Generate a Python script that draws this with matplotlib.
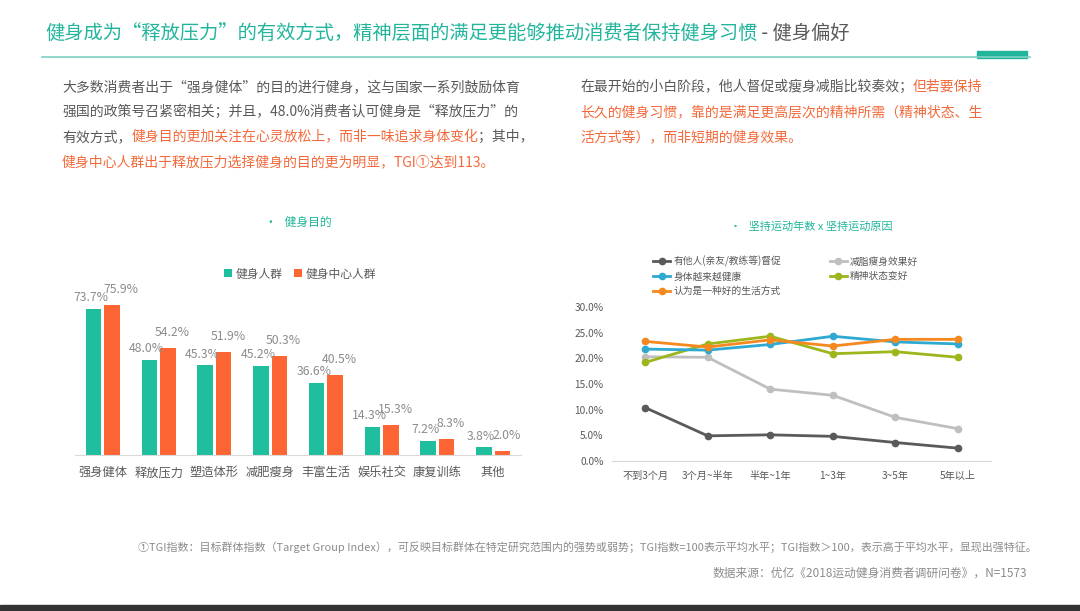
import numpy as np
import matplotlib
matplotlib.use('Agg')
import matplotlib.pyplot as plt
from matplotlib.patches import Rectangle

plt.rcParams['font.family'] = ['Noto Sans CJK SC', 'DejaVu Sans']

W, H = 1080, 611

# --- data ---
bar_cats = ['强身健体', '释放压力', '塑造体形', '减肥瘦身', '丰富生活', '娱乐社交', '康复训练', '其他']
fit_all = [73.7, 48.0, 45.3, 45.2, 36.6, 14.3, 7.2, 3.8]
fit_gym = [75.9, 54.2, 51.9, 50.3, 40.5, 15.3, 8.3, 2.0]

year_cats = ['不到3个月', '3个月~半年', '半年~1年', '1~3年', '3~5年', '5年以上']
push_others = [10.4, 4.9, 5.1, 4.8, 3.6, 2.5]
lose_fat = [20.3, 20.2, 14.0, 12.8, 8.5, 6.3]
healthier = [21.8, 21.6, 22.7, 24.3, 23.2, 22.8]
mood_better = [19.2, 22.8, 24.3, 20.9, 21.3, 20.2]
good_life = [23.3, 22.2, 23.6, 22.4, 23.7, 23.7]

TEAL = '#22b59c'
GRAY_TXT = '#595959'
ORANGE_TXT = '#f4693a'
LIGHT_TXT = '#8c8c8c'


def fx(px):
    return px / W


def fy(py):
    return 1 - py / H


def draw_runs(fig, x_px, y_px, runs, size):
    """色の違うテキストを横に連結して描画"""
    renderer = fig.canvas.get_renderer()
    x = x_px
    for s, c in runs:
        t = fig.text(fx(x), fy(y_px), s, color=c, fontsize=size, ha='left', va='center')
        x += t.get_window_extent(renderer).width


fig = plt.figure(figsize=(W / 100, H / 100), dpi=100)
fig.patch.set_facecolor('white')

# タイトル
draw_runs(fig, 45, 33, [('健身成为“释放压力”的有效方式，精神层面的满足更能够推动消费者保持健身习惯', TEAL),
                        (' - 健身偏好', GRAY_TXT)], 13.9)
fig.add_artist(plt.Line2D([fx(42), fx(1030)], [fy(56.5), fy(56.5)], color='#7fd0c2', lw=1.2))
fig.add_artist(Rectangle((fx(977), fy(57.5)), fx(1027) - fx(977), fy(51) - fy(57.5),
                         color=TEAL, transform=fig.transFigure))

# 本文
left_lines = [
    [('大多数消费者出于“强身健体”的目的进行健身，这与国家一系列鼓励体育', GRAY_TXT)],
    [('强国的政策号召紧密相关；并且，48.0%消费者认可健身是“释放压力”的', GRAY_TXT)],
    [('有效方式，', GRAY_TXT), ('健身目的更加关注在心灵放松上，而非一味追求身体变化', ORANGE_TXT), ('；其中，', GRAY_TXT)],
    [('健身中心人群出于释放压力选择健身的目的更为明显，TGI①达到113。', ORANGE_TXT)],
]
right_lines = [
    [('在最开始的小白阶段，他人督促或瘦身减脂比较奏效；', GRAY_TXT), ('但若要保持', ORANGE_TXT)],
    [('长久的健身习惯，靠的是满足更高层次的精神所需（精神状态、生', ORANGE_TXT)],
    [('活方式等），而非短期的健身效果。', ORANGE_TXT)],
]
for i, runs in enumerate(left_lines):
    draw_runs(fig, 62, 87 + i * 25, runs, 10)
for i, runs in enumerate(right_lines):
    draw_runs(fig, 580, 87 + i * 25, runs, 10)

# 左: 健身目的
fig.text(fx(298), fy(222), '•   健身目的', color=TEAL, fontsize=8.5, ha='center', va='center')
ax1 = fig.add_axes([fx(75), fy(455), fx(521) - fx(75), 168 / H])
x = np.arange(len(bar_cats))
w = 0.28
ax1.bar(x - 0.165, fit_all, w, color='#1fbe9e', label='健身人群')
ax1.bar(x + 0.165, fit_gym, w, color='#fd6634', label='健身中心人群')
for i, v in enumerate(fit_all):
    ax1.annotate(f'{v:.1f}%', (x[i] - 0.165, v), xytext=(-2, 3.5), textcoords='offset points',
                 ha='center', va='bottom', fontsize=8.8, color=LIGHT_TXT)
for i, v in enumerate(fit_gym):
    dx = 6 if i == 0 else 3
    ax1.annotate(f'{v:.1f}%', (x[i] + 0.165, v), xytext=(dx, 6.5), textcoords='offset points',
                 ha='center', va='bottom', fontsize=8.8, color=LIGHT_TXT)
ax1.set_xlim(-0.5, len(bar_cats) - 0.5)
ax1.set_ylim(0, 85)
ax1.set_xticks(x)
ax1.set_xticklabels(bar_cats, fontsize=8.8, color=GRAY_TXT)
ax1.tick_params(axis='x', length=0, pad=8)
ax1.set_yticks([])
for s in ['top', 'right', 'left']:
    ax1.spines[s].set_visible(False)
ax1.spines['bottom'].set_color('#d9d9d9')
ax1.legend(loc='center', bbox_to_anchor=(fx(300), fy(274)), bbox_transform=fig.transFigure,
           ncol=2, frameon=False, fontsize=8.5, handlelength=0.7, handleheight=0.7,
           handletextpad=0.3, columnspacing=1.0, labelcolor=GRAY_TXT)

# 右: 坚持运动年数 x 坚持运动原因
fig.text(fx(811), fy(227), '•   坚持运动年数 x 坚持运动原因', color=TEAL, fontsize=8, ha='center', va='center')
ax2 = fig.add_axes([fx(612), fy(461), fx(991) - fx(612), 154 / H])
xs = np.arange(len(year_cats))
series = [
    ('有他人(亲友/教练等)督促', push_others, '#5a5a5a'),
    ('身体越来越健康', healthier, '#2ea9d2'),
    ('认为是一种好的生活方式', good_life, '#f5891f'),
    ('减脂瘦身效果好', lose_fat, '#bfbfbf'),
    ('精神状态变好', mood_better, '#9db61c'),
]
draw_order = [0, 3, 4, 1, 2]
lines = {}
for k in draw_order:
    name, vals, col = series[k]
    ln, = ax2.plot(xs, vals, color=col, lw=2, marker='o', markersize=4.5, label=name)
    lines[k] = ln
ax2.set_xlim(-0.53, len(year_cats) - 0.47)
ax2.set_ylim(0, 30)
ax2.set_yticks(np.arange(0, 31, 5))
ax2.set_yticklabels([f'{v:.1f}%' for v in np.arange(0, 31, 5)])
ax2.set_xticks(xs)
ax2.set_xticklabels(year_cats)
ax2.tick_params(axis='both', length=0, labelsize=7.3, labelcolor=GRAY_TXT)
ax2.tick_params(axis='x', pad=7)
ax2.tick_params(axis='y', pad=6)
for s in ['top', 'right', 'left']:
    ax2.spines[s].set_visible(False)
ax2.spines['bottom'].set_color('#d9d9d9')
ax2.legend([lines[k] for k in range(5)], [series[k][0] for k in range(5)],
           loc='upper left', bbox_to_anchor=(fx(648), fy(251)), bbox_transform=fig.transFigure,
           ncol=2, frameon=False, fontsize=7, handlelength=1.8, handletextpad=0.3,
           columnspacing=5.0, labelspacing=0.45, borderpad=0, labelcolor=GRAY_TXT)

# 注記
fig.text(fx(1037), fy(547), '①TGI指数：目标群体指数（Target Group Index），可反映目标群体在特定研究范围内的强势或弱势；'
         'TGI指数=100表示平均水平；TGI指数＞100，表示高于平均水平，显现出强特征。',
         color=LIGHT_TXT, fontsize=7.95, ha='right', va='center')
fig.text(fx(1027), fy(573), '数据来源：优亿《2018运动健身消费者调研问卷》，N=1573',
         color=LIGHT_TXT, fontsize=8.5, ha='right', va='center')
fig.add_artist(Rectangle((0, 0), 1, 6 / H, color='#333333', transform=fig.transFigure))

fig.savefig('out.png', dpi=100)
